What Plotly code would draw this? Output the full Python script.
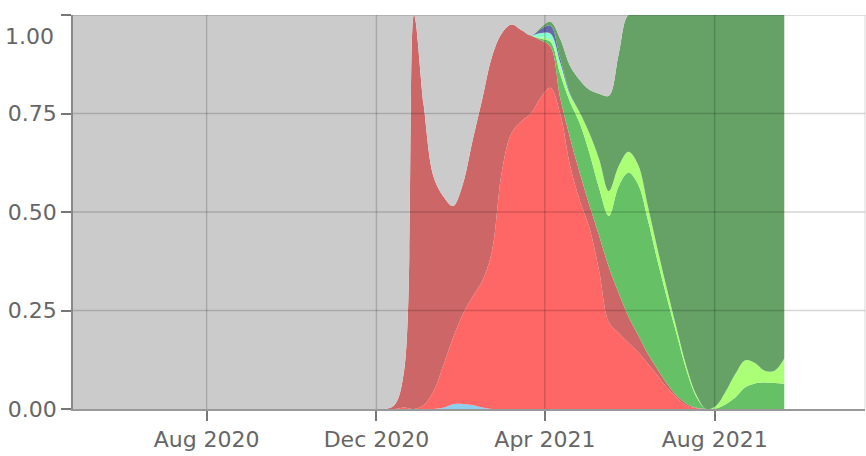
import pandas as pd
import plotly.graph_objects as go

# Weekly sample dates (week starting)
dates = pd.date_range("2020-04-27", periods=74, freq="7D")

# Share of sequences per lineage (stacked, bottom to top)
share_b1177_minor = [0] * 38 + [0.003, 0.012, 0.013, 0.010, 0.004] + [0] * 31
share_alpha = [0] * 34 + [0.004, 0.0,
    0.01, 0.045, 0.107, 0.168, 0.227, 0.275, 0.321, 0.40, 0.60, 0.70,
    0.73, 0.75, 0.79, 0.815, 0.75, 0.62, 0.53, 0.46, 0.35, 0.22,
    0.193, 0.168, 0.144, 0.115, 0.085, 0.053, 0.028, 0.008, 0.002] + [0] * 9
share_alpha_sub = [0] * 33 + [
    0.01, 0.096, 1.0, 0.76, 0.545, 0.43, 0.335, 0.33, 0.395, 0.461,
    0.494, 0.353, 0.276, 0.232, 0.198, 0.146, 0.105, 0.04, 0.07, 0.07,
    0.057, 0.09, 0.14, 0.102, 0.067, 0.044, 0.025, 0.015, 0.01, 0.005,
    0.005, 0.001] + [0] * 9
share_delta_a = [0] * 48 + [
    0.004, 0.012, 0.06, 0.09, 0.126, 0.133, 0.12, 0.13, 0.27, 0.365,
    0.382, 0.34, 0.275, 0.215, 0.152, 0.082, 0.027, 0.0, 0.001, 0.012,
    0.03, 0.055, 0.065, 0.067, 0.066, 0.064]
share_delta_b = [0] * 48 + [
    0.002, 0.005, 0.018, 0.015, 0.027, 0.05, 0.074, 0.063, 0.051, 0.053,
    0.05, 0.035, 0.03, 0.022, 0.015, 0.01, 0.005, 0.0, 0.007, 0.033,
    0.06, 0.069, 0.052, 0.03, 0.031, 0.064]
share_gamma = [0] * 48 + [0.012, 0.016, 0.012, 0.004] + [0] * 22
share_beta = [0] * 48 + [0.010, 0.020, 0.010, 0.003] + [0] * 22
share_delta = [0] * 48 + [
    0.004, 0.01, 0.05, 0.07, 0.082, 0.11, 0.166, 0.242, 0.284, 0.347,
    0.38, 0.485, 0.595, 0.70, 0.80, 0.895, 0.965, 1.0, 0.992, 0.955,
    0.91, 0.876, 0.883, 0.903, 0.903, 0.872]
share_other = [1.0] * 33 + [
    0.99, 0.9, 0.0, 0.23, 0.41, 0.46, 0.485, 0.43, 0.32, 0.214,
    0.106, 0.047, 0.024, 0.038, 0.052, 0.032, 0.017, 0.06, 0.128, 0.165,
    0.19, 0.20, 0.205, 0.10] + [0] * 17

# Axis ticks
x_tick_dates = ["2020-08-01", "2020-12-01", "2021-04-01", "2021-08-01"]
y_tick_vals = [0, 0.25, 0.5, 0.75, 1.0]
y_tick_text = ["0.00", "0.25", "0.50", "0.75", "1.00"]

series = [
    ("B.1.177", share_b1177_minor, "#8ecff0"),
    ("B.1.1.7", share_alpha, "#ff6666"),
    ("B.1.1.7 (Q)", share_alpha_sub, "#cd6666"),
    ("AY.4", share_delta_a, "#66c066"),
    ("AY.4.2", share_delta_b, "#aaff77"),
    ("P.1", share_gamma, "#88ffcc"),
    ("B.1.351", share_beta, "#6666aa"),
    ("B.1.617.2", share_delta, "#66a266"),
    ("Other", share_other, "#cbcbcb"),
]

fig = go.Figure()
for name, vals, col in series:
    fig.add_trace(go.Scatter(
        x=dates, y=vals, name=name, stackgroup="one", mode="lines",
        line=dict(width=0, shape="spline", color=col),
        fillcolor=col, hoverinfo="x+y+name",
    ))

font = dict(family="DejaVu Sans", size=22, color="#666666")
grid = "rgba(0,0,0,0.17)"

# grid lines drawn above the filled areas
shapes = []
for d in x_tick_dates:
    shapes.append(dict(type="line", xref="x", yref="paper", x0=d, x1=d,
                       y0=0, y1=1, layer="above",
                       line=dict(color=grid, width=1.5)))
for v in y_tick_vals[1:]:
    shapes.append(dict(type="line", xref="paper", yref="y", x0=0, x1=1,
                       y0=v, y1=v, layer="above",
                       line=dict(color=grid, width=1.5)))
# light frame on the right edge of the plot area
shapes.append(dict(type="line", xref="paper", yref="paper", x0=1, x1=1,
                   y0=0, y1=1, layer="above",
                   line=dict(color="rgba(0,0,0,0.1)", width=1.5)))

fig.update_layout(
    width=866, height=456,
    margin=dict(l=73, r=1, t=15, b=47),
    paper_bgcolor="white", plot_bgcolor="white",
    showlegend=False, font=font,
    xaxis=dict(
        type="date", range=["2020-04-27", "2021-11-17"],
        tickvals=x_tick_dates, tickformat="%b %Y",
        showgrid=False,
        ticks="outside", ticklen=10, tickcolor="#777", tickwidth=1.5,
        showline=True, linecolor="#999", linewidth=1.5,
        layer="above traces", tickfont=font,
    ),
    yaxis=dict(
        range=[0, 1], tickvals=y_tick_vals,
        ticktext=y_tick_text[:-1] + [""],
        showgrid=False, zeroline=False,
        ticks="outside", ticklen=10, tickcolor="#777", tickwidth=1.5,
        showline=True, linecolor="#888", linewidth=1.5,
        layer="above traces", tickfont=font,
    ),
    shapes=shapes,
    annotations=[dict(
        text=y_tick_text[-1], xref="paper", yref="y", x=0, y=0.946,
        xanchor="right", yanchor="middle", xshift=-17, showarrow=False,
        font=font,
    )],
)

fig.write_html("out.html", config={"displayModeBar": False},
               post_script="document.body.style.margin='0px';")
